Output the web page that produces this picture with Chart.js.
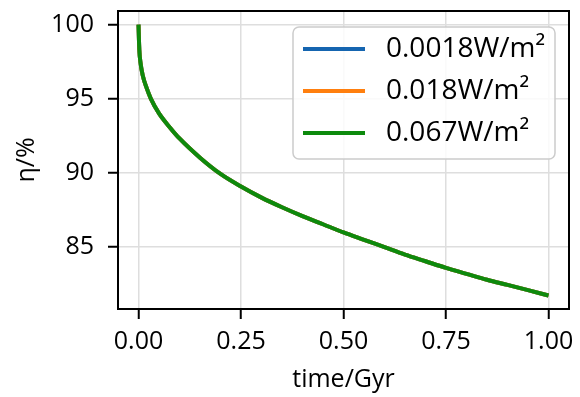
<!DOCTYPE html>
<html><head><meta charset="utf-8">
<script src="https://cdn.jsdelivr.net/npm/chart.js@4/dist/chart.umd.min.js"></script>
<style>html,body{margin:0;padding:0;background:#fff}#wrap{width:580px;height:397px}</style>
</head><body><div id="wrap"><canvas id="c" width="580" height="397"></canvas></div>
<script>
const timeGyr  = [0, 0.002, 0.005, 0.01, 0.02, 0.03, 0.05, 0.075, 0.1, 0.15, 0.2, 0.25, 0.3, 0.35, 0.4, 0.45, 0.5, 0.55, 0.6, 0.65, 0.7, 0.75, 0.8, 0.85, 0.9, 0.95, 1.0];
const eta00018 = [100, 98.3, 97.4, 96.6, 95.7, 95.0, 94.0, 93.1, 92.3, 91.0, 89.9, 89.05, 88.3, 87.65, 87.05, 86.5, 85.95, 85.45, 84.95, 84.45, 84.0, 83.55, 83.15, 82.75, 82.4, 82.05, 81.68];
const eta0018  = [100, 98.3, 97.4, 96.6, 95.7, 95.0, 94.0, 93.1, 92.3, 91.0, 89.9, 89.05, 88.3, 87.65, 87.05, 86.5, 85.95, 85.45, 84.95, 84.45, 84.0, 83.55, 83.15, 82.75, 82.4, 82.05, 81.68];
const eta0067  = [100, 98.3, 97.4, 96.6, 95.7, 95.0, 94.0, 93.1, 92.3, 91.0, 89.9, 89.05, 88.3, 87.65, 87.05, 86.5, 85.95, 85.45, 84.95, 84.45, 84.0, 83.55, 83.15, 82.75, 82.4, 82.05, 81.68];
const seriesLabels = ['0.0018W/m\u00B2', '0.018W/m\u00B2', '0.067W/m\u00B2'];
const seriesColors = ['#1565b0', '#ff7f0e', '#0d8a0d'];
const xTicks = [0, 0.25, 0.5, 0.75, 1.0];
const yTicks = [85, 90, 95, 100];

const tickFont = {family: '"Open Sans", "Liberation Sans", sans-serif', size: 25};
const legendFont = '28px "Open Sans", "Liberation Sans", sans-serif';

function pts(ys) { return timeGyr.map((t, i) => ({x: t, y: ys[i]})); }

const framePlugin = {
  id: 'frame',
  afterDatasetsDraw(chart) {
    const {ctx, chartArea: a} = chart;
    ctx.save();
    ctx.strokeStyle = '#000';
    ctx.lineWidth = 2;
    ctx.strokeRect(a.left, a.top, a.right - a.left, a.bottom - a.top);
    ctx.restore();
  }
};

const legendPlugin = {
  id: 'innerLegend',
  afterDraw(chart) {
    const {ctx, chartArea: a} = chart;
    const x0 = a.right - 276, y0 = a.top + 16, w = 262, h = 132, r = 6;
    ctx.save();
    ctx.beginPath();
    ctx.moveTo(x0 + r, y0);
    ctx.arcTo(x0 + w, y0, x0 + w, y0 + h, r);
    ctx.arcTo(x0 + w, y0 + h, x0, y0 + h, r);
    ctx.arcTo(x0, y0 + h, x0, y0, r);
    ctx.arcTo(x0, y0, x0 + w, y0, r);
    ctx.closePath();
    ctx.fillStyle = 'rgba(255,255,255,0.85)';
    ctx.fill();
    ctx.strokeStyle = '#cccccc';
    ctx.lineWidth = 1.5;
    ctx.stroke();
    chart.data.datasets.forEach((ds, i) => {
      const cy = y0 + 22 + i * 42;
      ctx.beginPath();
      ctx.strokeStyle = ds.borderColor;
      ctx.lineWidth = 4;
      ctx.moveTo(x0 + 10, cy);
      ctx.lineTo(x0 + 72, cy);
      ctx.stroke();
      ctx.fillStyle = '#000';
      ctx.font = legendFont;
      ctx.textBaseline = 'middle';
      ctx.textAlign = 'left';
      ctx.fillText(ds.label, x0 + 93, cy);
    });
    ctx.restore();
  }
};

new Chart(document.getElementById('c'), {
  type: 'line',
  data: {
    datasets: [
      {label: seriesLabels[0], data: pts(eta00018), borderColor: seriesColors[0], order: 2},
      {label: seriesLabels[1], data: pts(eta0018), borderColor: seriesColors[1], order: 1},
      {label: seriesLabels[2], data: pts(eta0067), borderColor: seriesColors[2], order: 0}
    ].map(d => Object.assign(d, {borderWidth: 4, pointRadius: 0, cubicInterpolationMode: 'monotone', fill: false}))
  },
  options: {
    responsive: false,
    animation: false,
    devicePixelRatio: 1,
    layout: {padding: {top: 11, right: 11, left: 0, bottom: 0}},
    plugins: {legend: {display: false}, tooltip: {enabled: false}},
    scales: {
      x: {
        type: 'linear', min: -0.05, max: 1.05,
        afterBuildTicks: s => { s.ticks = xTicks.map(v => ({value: v})); },
        afterFit: s => { s.height = 88; s.paddingLeft = 0; s.paddingRight = 0; },
        ticks: {callback: v => Number(v).toFixed(2), font: tickFont, color: '#000', padding: 8, maxRotation: 0, autoSkip: false},
        grid: {color: '#dedede', lineWidth: 1.5, tickColor: '#000', tickLength: 10, tickWidth: 2},
        border: {color: '#000', width: 2},
        title: {display: true, text: 'time/Gyr', font: tickFont, color: '#000', padding: {top: 0, bottom: 2}}
      },
      y: {
        type: 'linear', min: 80.77, max: 100.92,
        afterBuildTicks: s => { s.ticks = yTicks.map(v => ({value: v})); },
        afterFit: s => { s.width = 118; s.paddingTop = 0; s.paddingBottom = 0; },
        ticks: {callback: v => String(v), font: tickFont, color: '#000', padding: 14, autoSkip: false},
        grid: {color: '#dedede', lineWidth: 1.5, tickColor: '#000', tickLength: 10, tickWidth: 2},
        border: {color: '#000', width: 2},
        title: {display: true, text: '\u03B7/%', font: tickFont, color: '#000', padding: {top: 12, bottom: 0}}
      }
    }
  },
  plugins: [framePlugin, legendPlugin]
});
</script>
</body></html>
